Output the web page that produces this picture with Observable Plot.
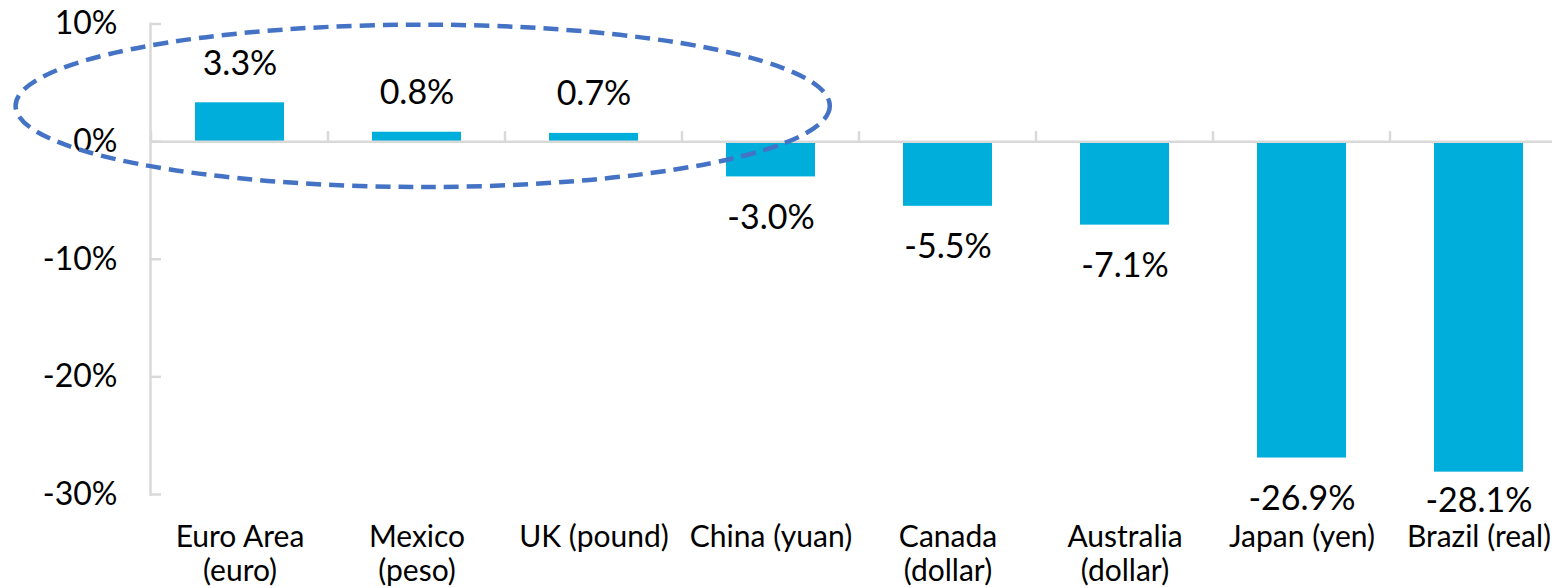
<!DOCTYPE html>
<html>
<head>
<meta charset="utf-8">
<script src="https://cdn.jsdelivr.net/npm/d3@7"></script>
<script src="https://cdn.jsdelivr.net/npm/@observablehq/plot@0.6"></script>
<style>
  html, body { margin: 0; padding: 0; background: #fff; overflow: hidden; }
  #chart { width: 1552px; height: 588px; overflow: hidden; }
</style>
</head>
<body>
<div id="chart"></div>
<script>
// ---- data ----
const categories = [
  "Euro Area\n(euro)", "Mexico\n(peso)", "UK (pound)", "China (yuan)",
  "Canada\n(dollar)", "Australia\n(dollar)", "Japan (yen)", "Brazil (real)"
];
const values = [3.3, 0.8, 0.7, -3.0, -5.5, -7.1, -26.9, -28.1];
const yTicks = [10, 0, -10, -20, -30];
// lowest value at which a data label may sit (labels of deeper bars are held at this level)
const labelFloor = -27.1;
// highlight ellipse, in data terms: centred near the Mexico band
const highlight = { category: "Mexico\n(peso)", offsetSteps: 0.035, cy: 3.0, rxSteps: 2.3, ry: 6.9 };

const data = categories.map((c, i) => ({ cat: c, value: values[i] }));
const pos = data.filter(d => d.value >= 0);
const neg = data.filter(d => d.value < 0);

const W = 1568, H = 588;
const gray = "#d9d9d9";
const blue = "#00AEDB";
const fmt = v => v.toFixed(1) + "%";

const plot = Plot.plot({
  width: W,
  height: H,
  marginLeft: 150,
  marginRight: 0,
  marginTop: 23.5,
  marginBottom: 94,
  style: { fontFamily: "Lato, 'Open Sans', sans-serif", color: "#000", background: "#fff", maxWidth: "none", overflow: "visible" },
  x: { domain: categories, paddingInner: 0.5, paddingOuter: 0.25, label: null },
  y: { domain: [-30, 10], label: null },
  marks: [
    Plot.barY(data, { x: "cat", y: "value", fill: blue }),
    Plot.ruleY([0], { stroke: gray, strokeWidth: 2.5 }),
    Plot.frame({ anchor: "left", stroke: gray, strokeWidth: 2.5 }),
    Plot.tickY(yTicks, { y: d => d, stroke: gray, strokeWidth: 2.5, insetRight: W - 150 - 11 }),
    Plot.axisY({ ticks: yTicks, tickSize: 0, tickPadding: 33, fontSize: 32, tickFormat: d => d + "%" }),
    Plot.axisX({ tickSize: 0, tickPadding: 28, fontSize: 30, lineHeight: 1.15 }),
    Plot.text(pos, { x: "cat", y: "value", text: d => fmt(d.value), dy: -39, fontSize: 34, fill: "#000" }),
    Plot.text(neg, { x: "cat", y: d => Math.max(d.value, labelFloor), text: d => fmt(d.value), dy: 41, fontSize: 34, fill: "#000" })
  ]
});

// boundary ticks on the zero line and the dashed highlight ellipse, placed via the plot's own scales
const xs = plot.scale("x");
const ys = plot.scale("y");
const step = xs.apply(categories[1]) - xs.apply(categories[0]);
const bw = xs.bandwidth;
const gap = (step - bw) / 2;
const svg = d3.select(plot);
const y0 = ys.apply(0);
const boundaries = categories.map(c => xs.apply(c) - gap).concat([xs.apply(categories[categories.length - 1]) + bw + gap]);
svg.append("g")
  .selectAll("line")
  .data(boundaries)
  .join("line")
  .attr("x1", d => d).attr("x2", d => d)
  .attr("y1", y0).attr("y2", y0 - 10)
  .attr("stroke", gray).attr("stroke-width", 2.5);

const cx = xs.apply(highlight.category) + bw / 2 + highlight.offsetSteps * step;
const cy = ys.apply(highlight.cy);
const rx = highlight.rxSteps * step;
const ry = Math.abs(ys.apply(highlight.cy + highlight.ry) - cy);
svg.append("ellipse")
  .attr("cx", cx).attr("cy", cy).attr("rx", rx).attr("ry", ry)
  .attr("fill", "none").attr("stroke", "#4472C4")
  .attr("stroke-width", 4.5).attr("stroke-dasharray", "15 8");

document.getElementById("chart").appendChild(plot);
</script>
</body>
</html>
